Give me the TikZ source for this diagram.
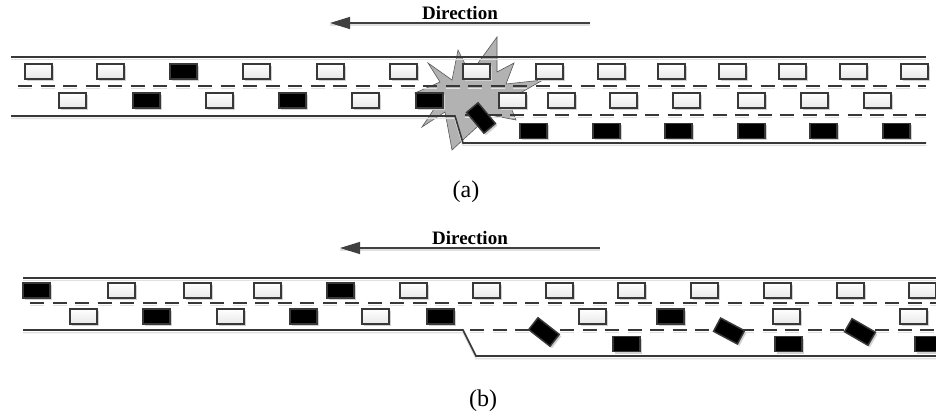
\documentclass[tikz,border=0pt]{standalone}
\usepackage{fontspec}
\setmainfont{Liberation Serif}
\usetikzlibrary{shadows,arrows.meta}
\begin{document}
\begin{tikzpicture}[x=1pt,y=-1pt,
  car/.style={rectangle, minimum width=27pt, minimum height=15pt, inner sep=0pt,
    draw=black!78, line width=1.5pt,
    drop shadow={shadow xshift=2pt, shadow yshift=-2pt, fill=black!18, opacity=1}},
  lightcar/.style={car, top color=white, bottom color=black!9},
  darkcar/.style={car, fill=black},
  road/.style={draw=black!78, line width=1.6pt},
  roadshade/.style={draw=black!12, line width=1.5pt},
  lane/.style={draw=black!78, line width=1.9pt, dash pattern=on 14pt off 8.5pt},
  laneshade/.style={draw=black!12, line width=1.8pt, dash pattern=on 14pt off 8.5pt},
  blast/.style={fill=black!30, draw=black!65, line width=0.6pt, line join=miter},
  dirarrow/.style={draw=black!75, line width=1.3pt, -{Triangle[length=20pt,width=12pt]}},
  dirlabel/.style={font=\fontsize{19}{19}\selectfont\bfseries, anchor=base},
  caption/.style={font=\fontsize{24}{24}\selectfont}
]
\useasboundingbox (0,0) rectangle (936,419);

% ---------------- (a) incident on a three-lane section ----------------
\coordinate (a-dir-tail) at (590,23);
\coordinate (a-dir-head) at (330,23);
\draw[roadshade] ([yshift=-2pt]a-dir-tail) -- ([yshift=-2pt]a-dir-head);
\draw[dirarrow] (a-dir-tail) -- (a-dir-head);
\node[dirlabel] (a-dir) at (460,20) {Direction};

% explosion behind the traffic
\draw[blast] (428,63) -- (452,80) -- (458,50) -- (470,74) -- (497,37) -- (497,72)
  -- (514,63) -- (506,84) -- (543,80) -- (508,100) -- (516,120) -- (490,115)
  -- (452,150) -- (445,112) -- (422,127) -- (440,100) -- (415,93) -- (440,82) -- cycle;

% road edges and lane markings
\draw[roadshade] (11,59.5) -- (926,59.5);
\draw[roadshade] (11,118.5) -- (455,118.5) -- (463,145.5) -- (926,145.5);
\draw[laneshade] (18,88.5) -- (926,88.5);
\draw[laneshade] (465,117.5) -- (926,117.5);
\draw[road] (11,57) -- (926,57);
\draw[road] (11,116) -- (455,116) -- (463,143) -- (926,143);
\draw[lane] (18,86) -- (926,86);
\draw[lane] (465,115) -- (926,115);

% vehicles, lane 1
\foreach \x/\k [count=\i] in {25/lightcar,97/lightcar,170/darkcar,243/lightcar,
    317/lightcar,390/lightcar,463/lightcar,536/lightcar,598/lightcar,658/lightcar,
    719/lightcar,779/lightcar,840/lightcar,901/lightcar}
  \node[\k] (a1-\i) at (\x+13.5,71.5) {};
% vehicles, lane 2
\foreach \x/\k [count=\i] in {59/lightcar,133/darkcar,206/lightcar,279/darkcar,
    352/lightcar,416/darkcar,499/lightcar,548/lightcar,610/lightcar,673/lightcar,
    738/lightcar,801/lightcar,864/lightcar}
  \node[\k] (a2-\i) at (\x+13.5,100.5) {};
% vehicles, lane 3
\foreach \x [count=\i] in {520,593,665,738,810,883}
  \node[darkcar] (a3-\i) at (\x+13.5,131) {};
% crashed vehicle
\node[darkcar, rotate=-50] (a-crash) at (481,118) {};

\node[caption] (a-cap) at (466,192) {(a)};

% ---------------- (b) merging into two lanes ----------------
\coordinate (b-dir-tail) at (600,248);
\coordinate (b-dir-head) at (340,248);
\draw[roadshade] ([yshift=-2pt]b-dir-tail) -- ([yshift=-2pt]b-dir-head);
\draw[dirarrow] (b-dir-tail) -- (b-dir-head);
\node[dirlabel] (b-dir) at (470,245) {Direction};

\draw[roadshade] (23,280.5) -- (936,280.5);
\draw[roadshade] (23,332.5) -- (463,332.5) -- (476,358.5) -- (936,358.5);
\draw[laneshade] (30,305.5) -- (936,305.5);
\draw[laneshade] (470,332.5) -- (936,332.5);
\draw[road] (23,278) -- (936,278);
\draw[road] (23,330) -- (463,330) -- (476,356) -- (936,356);
\draw[lane] (30,303) -- (936,303);
\draw[lane] (470,330) -- (936,330);

\foreach \x/\k [count=\i] in {23/darkcar,108/lightcar,184/lightcar,254/lightcar,
    327/darkcar,400/lightcar,473/lightcar,546/lightcar,618/lightcar,691/lightcar,
    764/lightcar,837/lightcar,909/lightcar}
  \node[\k] (b1-\i) at (\x+13.5,290.5) {};
\foreach \x/\k [count=\i] in {70/lightcar,143/darkcar,217/lightcar,290/darkcar,
    362/lightcar,427/darkcar,579/lightcar,657/darkcar,773/lightcar,900/lightcar}
  \node[\k] (b2-\i) at (\x+13.5,316.5) {};
\foreach \x [count=\i] in {613,775,915}
  \node[darkcar] (b3-\i) at (\x+13.5,344) {};
% vehicles changing lane
\node[darkcar, rotate=-38] (b-move-1) at (544,332) {};
\node[darkcar, rotate=-28] (b-move-2) at (729,331) {};
\node[darkcar, rotate=-30] (b-move-3) at (860,332) {};

\node[caption] (b-cap) at (483,401) {(b)};
\end{tikzpicture}
\end{document}
